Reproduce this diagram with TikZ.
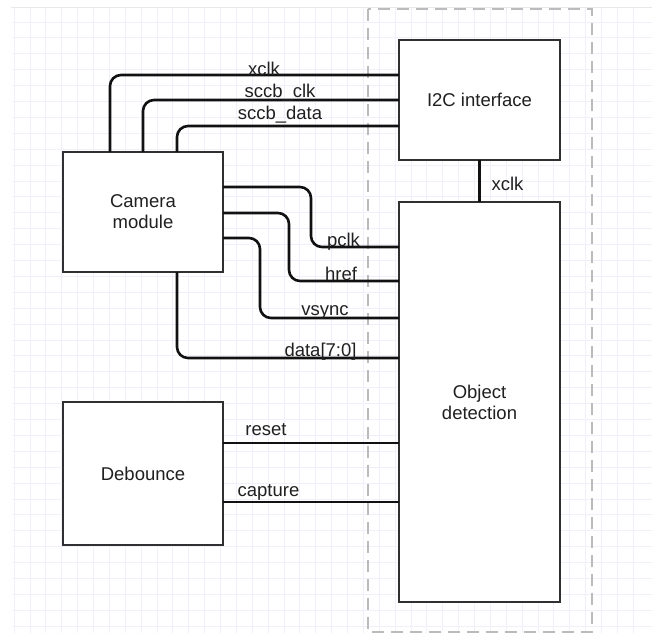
\documentclass[tikz,border=0pt]{standalone}
\usepackage{fontspec}
\setmainfont{Liberation Sans}
\begin{document}
\begin{tikzpicture}[x=1pt,y=-1pt,
  font=\fontsize{18.5}{21}\selectfont,
  block/.style={draw=boxc, fill=white, line width=2.8pt, inner sep=0pt, outer sep=0pt, align=center, text=txtc},
  wire/.style={draw=wirec, line width=2.6pt, rounded corners=11pt},
  lbl/.style={inner sep=0pt, outer sep=0pt, anchor=base, text=txtc},
  gridline/.style={draw=gridc, line width=0.9pt}
]
\definecolor{boxc}{HTML}{303030}
\definecolor{wirec}{HTML}{111111}
\definecolor{txtc}{HTML}{202020}
\definecolor{gridc}{HTML}{F0F0FA}
\definecolor{dashc}{HTML}{BBBBBB}
\definecolor{topc}{HTML}{E8E8E8}
\useasboundingbox (0,0) rectangle (652,633);
\fill[white] (0,0) rectangle (652,633);
% grid
\foreach \i in {0,...,39} {
  \draw[gridline] ({14.1+15.875*\i},7) -- ({14.1+15.875*\i},633);
}
\foreach \j in {0,...,38} {
  \draw[gridline] (12,{22+15.9*\j}) -- (652,{22+15.9*\j});
}
\draw[topc, line width=1pt] (11,7) -- (652,7);
% dashed region
\draw[dashc, line width=2.8pt, dash pattern=on 12pt off 7pt] (368,9) rectangle (592,632);
% blocks
\node[block, minimum width=160pt, minimum height=120pt] (cam) at (143,212) {Camera\\module};
\node[block, minimum width=161pt, minimum height=120pt] (i2c) at (479.5,100) {I2C interface};
\node[block, minimum width=161pt, minimum height=400pt] (od) at (479.5,402) {Object\\detection};
\node[block, minimum width=160pt, minimum height=143pt] (deb) at (143,473.5) {Debounce};
% top wires camera -> i2c
\draw[wire] ([xshift=47pt]cam.north west) |- (i2c.west |- 0,75);
\draw[wire] ([xshift=80pt]cam.north west) |- (i2c.west |- 0,100);
\draw[wire] ([xshift=114pt]cam.north west) |- (i2c.west |- 0,126);
% i2c -> od
\draw[wire] (i2c.south) -- (od.north);
% camera -> od
\draw[wire] (cam.east |- 0,187) -- (311,187) -- (311,247) -- (od.west |- 0,247);
\draw[wire] (cam.east |- 0,213) -- (289,213) -- (289,281) -- (od.west |- 0,281);
\draw[wire] (cam.east |- 0,238) -- (260,238) -- (260,318) -- (od.west |- 0,318);
\draw[wire] ([xshift=114pt]cam.south west) |- (od.west |- 0,358);
% debounce -> od
\draw[wire] (deb.east |- 0,443) -- (od.west |- 0,443);
\draw[wire] (deb.east |- 0,502) -- (od.west |- 0,502);
% labels
\node[lbl] (l1) at (264,75) {xclk};
\node[lbl] (l2) at (280,97) {sccb\_clk};
\node[lbl] (l3) at (280,119) {sccb\_data};
\node[lbl] (l4) at (507.5,190) {xclk};
\node[lbl] (l5) at (343.5,246) {pclk};
\node[lbl] (l6) at (341,280) {href};
\node[lbl] (l7) at (325,315) {vsync};
\node[lbl] (l8) at (320.5,356) {data[7:0]};
\node[lbl] (l9) at (266,435) {reset};
\node[lbl] (l10) at (268.5,496) {capture};
\end{tikzpicture}
\end{document}
